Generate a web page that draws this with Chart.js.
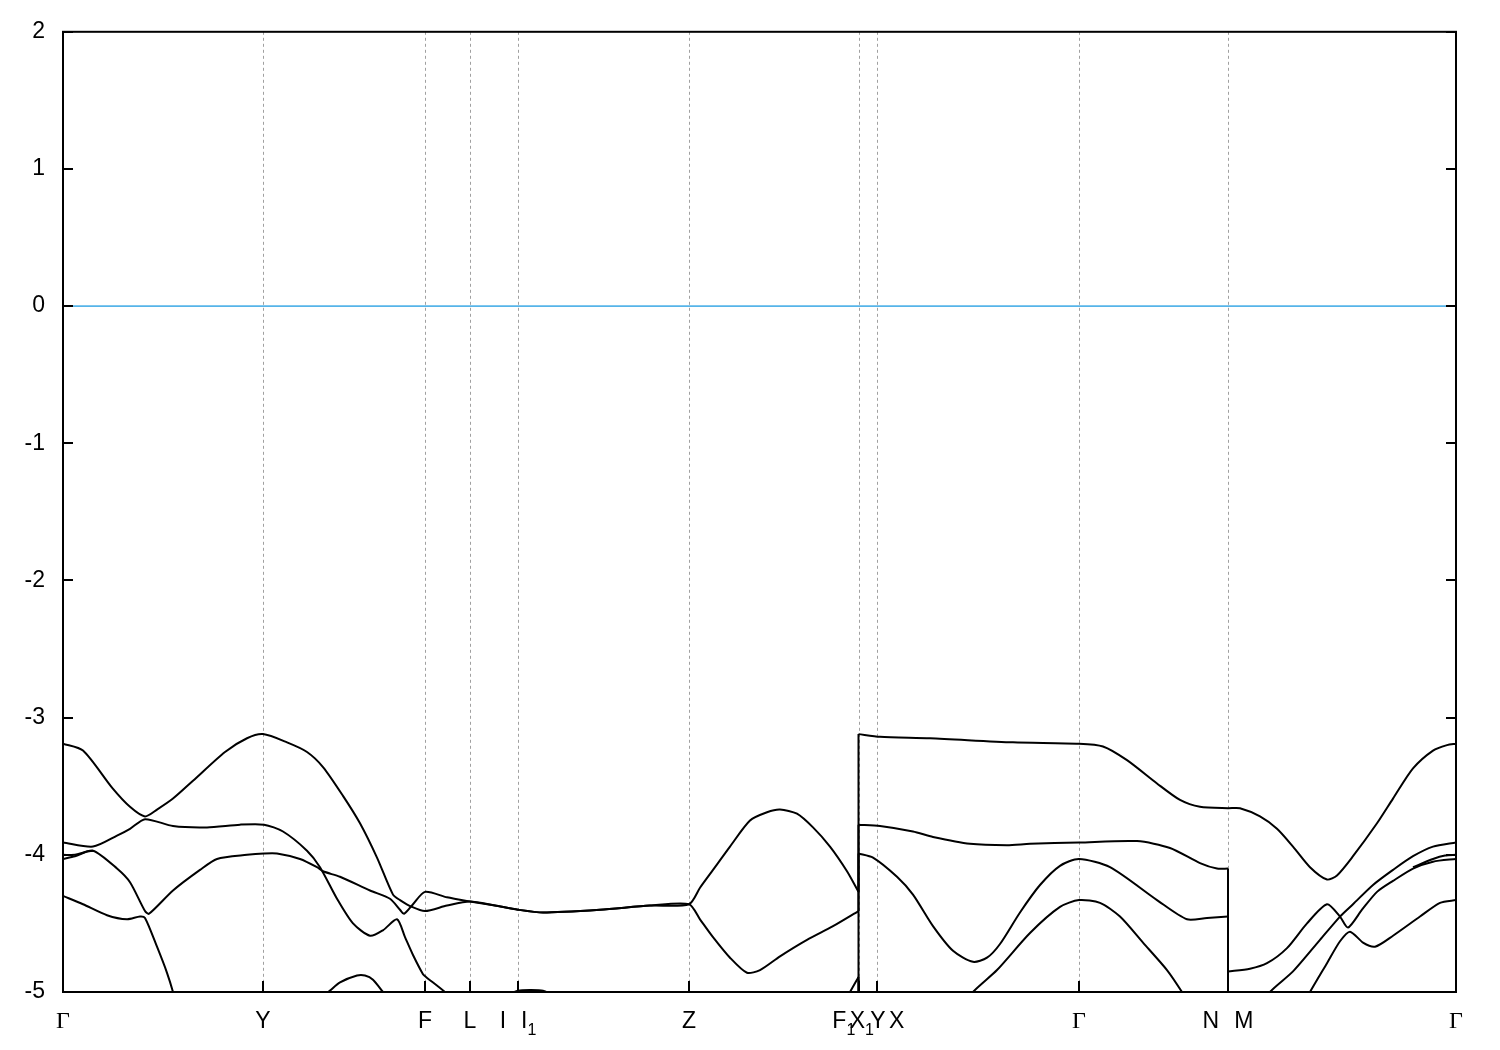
<!DOCTYPE html>
<html>
<head>
<meta charset="utf-8">
<title>Band structure</title>
<script src="https://cdn.jsdelivr.net/npm/chart.js@4.4.1/dist/chart.umd.min.js"></script>
<style>
  html, body { margin: 0; padding: 0; background: #fff; }
  canvas { display: block; }
</style>
</head>
<body>
<canvas id="bands" width="1500" height="1050"></canvas>
<script>
// High-symmetry points along the k-path (path length units)
const kTicks = [0, 2.00, 3.62, 4.07, 4.55, 6.26, 7.96, 8.14, 10.16, 11.65, 13.93];
const kLabels = ['Γ', 'Y', 'F', 'L', 'I|I_1', 'Z', 'F_1|Y', 'X_1|X', 'Γ', 'N|M', 'Γ'];

// Energy range (eV)
const eMin = -5;
const eMax = 2;
const fermiLevel = [[0, 0], [13.93, 0]];

// Bands: [k, E]; equal k twice = discontinuity jump
const band1 = [[0, -3.19], [0.20, -3.24], [0.49, -3.51], [0.67, -3.65], [0.82, -3.72], [0.94, -3.67],
  [1.10, -3.59], [1.30, -3.46], [1.62, -3.25], [1.84, -3.15], [2.00, -3.12], [2.24, -3.18], [2.44, -3.25],
  [2.60, -3.36], [2.80, -3.57], [2.97, -3.77], [3.14, -4.02], [3.30, -4.29], [3.37, -4.33], [3.49, -4.38],
  [3.62, -4.41], [3.84, -4.37], [4.07, -4.34], [4.32, -4.37], [4.55, -4.40], [4.80, -4.42], [5.37, -4.40],
  [5.87, -4.37], [6.26, -4.36], [6.37, -4.24], [6.50, -4.11], [6.67, -3.94], [6.87, -3.75], [7.04, -3.69],
  [7.17, -3.67], [7.34, -3.70], [7.50, -3.80], [7.67, -3.94], [7.84, -4.12], [7.955, -4.27], [7.955, -3.12],
  [8.17, -3.14], [8.67, -3.15], [9.50, -3.18], [10.16, -3.19], [10.40, -3.21], [10.64, -3.31], [10.94, -3.48],
  [11.17, -3.60], [11.37, -3.65], [11.65, -3.66], [11.77, -3.66], [11.97, -3.72], [12.14, -3.81],
  [12.30, -3.94], [12.47, -4.09], [12.64, -4.18], [12.74, -4.15], [12.90, -4.01], [13.14, -3.77],
  [13.30, -3.59], [13.50, -3.37], [13.70, -3.24], [13.84, -3.20], [13.93, -3.19]];

const band2 = [[0, -3.91], [0.30, -3.94], [0.54, -3.86], [0.67, -3.81], [0.82, -3.74], [1.10, -3.79],
  [1.44, -3.80], [1.77, -3.78], [2.01, -3.78], [2.20, -3.83], [2.44, -3.97], [2.57, -4.09], [2.74, -4.32],
  [2.90, -4.50], [3.07, -4.59], [3.20, -4.55], [3.34, -4.47], [3.42, -4.60], [3.50, -4.73], [3.60, -4.87],
  [3.63, -4.89], [3.85, -5.02], [4.07, -5.2]];

const band3 = [[0, -4.03], [0.12, -4.01], [0.30, -3.97], [0.54, -4.10], [0.67, -4.20], [0.82, -4.41],
  [0.86, -4.43], [1.10, -4.26], [1.37, -4.11], [1.54, -4.03], [1.84, -4.00], [2.01, -3.99], [2.14, -3.99],
  [2.37, -4.03], [2.54, -4.09], [2.60, -4.12], [2.77, -4.16], [3.07, -4.26], [3.27, -4.32], [3.37, -4.40],
  [3.41, -4.43], [3.50, -4.36], [3.62, -4.27], [3.84, -4.31], [4.07, -4.34], [4.32, -4.37], [4.55, -4.40],
  [4.80, -4.42], [5.37, -4.40], [5.87, -4.37], [6.26, -4.36], [6.37, -4.47], [6.50, -4.60], [6.67, -4.75],
  [6.84, -4.86], [6.97, -4.84], [7.17, -4.74], [7.44, -4.62], [7.70, -4.52], [7.955, -4.41], [7.955, -3.78],
  [8.17, -3.79], [8.50, -3.83], [8.70, -3.87], [9.07, -3.92], [9.44, -3.93], [9.67, -3.92], [10.16, -3.91],
  [10.74, -3.90], [11.07, -3.95], [11.37, -4.06], [11.54, -4.10], [11.65, -4.10], [11.65, -4.85],
  [11.87, -4.83], [12.04, -4.79], [12.24, -4.68], [12.44, -4.50], [12.64, -4.36], [12.77, -4.45],
  [12.85, -4.53], [12.99, -4.40], [13.14, -4.27], [13.30, -4.19], [13.50, -4.10], [13.70, -4.05], [13.93, -4.03]];

const band4 = [[0, -4.30], [0.20, -4.36], [0.44, -4.44], [0.64, -4.47], [0.77, -4.45], [0.82, -4.46],
  [0.94, -4.67], [1.04, -4.86], [1.10, -5.0], [1.17, -5.2]];

const band5 = [[2.57, -5.05], [2.67, -4.99], [2.77, -4.93], [2.94, -4.88], [3.02, -4.88], [3.10, -4.91],
  [3.20, -5.0], [3.27, -5.06]];

const band6 = [[4.42, -5.03], [4.55, -4.99], [4.67, -4.985], [4.80, -4.99], [4.92, -5.03]];

const band7 = [[7.80, -5.1], [7.87, -5.0], [7.955, -4.89], [7.955, -5.4], [9.02, -5.1], [9.10, -5.0],
  [9.34, -4.84], [9.67, -4.57], [9.97, -4.38], [10.16, -4.33], [10.37, -4.35], [10.57, -4.45], [10.80, -4.64],
  [11.04, -4.84], [11.19, -5.0], [11.27, -5.1]];

const band8 = [[7.955, -5.4], [7.955, -3.99], [8.10, -4.02], [8.34, -4.16], [8.50, -4.29], [8.70, -4.52],
  [8.90, -4.70], [9.10, -4.78], [9.24, -4.75], [9.37, -4.65], [9.57, -4.42], [9.77, -4.22], [9.97, -4.08],
  [10.16, -4.03], [10.47, -4.09], [10.94, -4.33], [11.24, -4.47], [11.44, -4.46], [11.65, -4.45], [11.65, -5.3]];

const band9 = [[12.00, -5.1], [12.07, -5.0], [12.30, -4.85], [12.57, -4.62], [12.77, -4.45], [12.90, -4.36],
  [13.10, -4.22], [13.30, -4.11], [13.50, -4.01], [13.70, -3.94], [13.93, -3.91]];

const band10 = [[12.40, -5.1], [12.47, -5.0], [12.64, -4.79], [12.77, -4.63], [12.87, -4.56], [13.00, -4.64],
  [13.12, -4.67], [13.30, -4.59], [13.57, -4.45], [13.77, -4.35], [13.93, -4.33]];

// near-degenerate partner close to Gamma
const band11Left = [[0, -4.00], [0.12, -4.00], [0.22, -3.98], [0.30, -3.97]];
const band11Right = [[13.50, -4.09], [13.70, -4.03], [13.82, -4.005], [13.93, -4.00]];

const allBands = [band1, band2, band3, band4, band5, band6, band7, band8, band9, band10, band11Left, band11Right];

// Split a band at jumps: smooth runs plus straight vertical connectors
function splitAtJumps(points) {
  const runs = [];
  const jumps = [];
  let run = [points[0]];
  for (let i = 1; i < points.length; i++) {
    const p = points[i];
    const q = points[i - 1];
    if (p[0] === q[0]) {
      jumps.push([q, p]);
      runs.push(run);
      run = [p];
    } else {
      run.push(p);
    }
  }
  runs.push(run);
  return { runs: runs.filter(r => r.length > 1), jumps };
}

const toXY = pts => pts.map(p => ({ x: p[0], y: p[1] }));

const datasets = [{
  data: toXY(fermiLevel),
  showLine: true,
  borderColor: '#56b4e9',
  borderWidth: 1.6,
  pointRadius: 0,
  tension: 0
}];

allBands.forEach(band => {
  const { runs, jumps } = splitAtJumps(band);
  runs.forEach(run => {
    datasets.push({
      data: toXY(run),
      showLine: true,
      borderColor: '#000',
      borderWidth: 2,
      pointRadius: 0,
      tension: 0.25
    });
  });
  jumps.forEach(j => {
    datasets.push({
      data: toXY(j),
      showLine: true,
      borderColor: '#000',
      borderWidth: 2,
      pointRadius: 0,
      tension: 0
    });
  });
});

const sansFont = '23px "Liberation Sans", Arial, sans-serif';
const serifFont = '24px "Liberation Serif", "Times New Roman", serif';
const subFont = '16px "Liberation Sans", Arial, sans-serif';

// Draw a k-point label like "F_1|Y" (| is shown as a blank gap, _1 as subscript)
function drawKLabel(ctx, text, cx, baseline) {
  const runs = [];
  text.split('|').forEach((part, i) => {
    if (i > 0) runs.push({ gap: 15 });
    const [main, sub] = part.split('_');
    runs.push({ text: main, font: main === 'Γ' ? serifFont : sansFont, dy: 0 });
    if (sub) runs.push({ text: sub, font: subFont, dy: 7 });
  });
  let total = 0;
  runs.forEach(r => {
    if (r.gap) { r.w = r.gap; } else { ctx.font = r.font; r.w = ctx.measureText(r.text).width; }
    total += r.w;
  });
  let xPos = cx - total / 2;
  ctx.textAlign = 'left';
  ctx.textBaseline = 'alphabetic';
  runs.forEach(r => {
    if (!r.gap) {
      ctx.font = r.font;
      ctx.fillText(r.text, xPos, baseline + r.dy);
    }
    xPos += r.w;
  });
}

const framePlugin = {
  id: 'frame',
  beforeDatasetsDraw(chart) {
    const { ctx, chartArea: a, scales: { x } } = chart;
    ctx.save();
    ctx.strokeStyle = '#a0a0a0';
    ctx.lineWidth = 1;
    ctx.setLineDash([3, 3]);
    kTicks.slice(1, -1).forEach(k => {
      const px = Math.round(x.getPixelForValue(k)) + 0.5;
      ctx.beginPath();
      ctx.moveTo(px, a.top);
      ctx.lineTo(px, a.bottom);
      ctx.stroke();
    });
    ctx.restore();
  },
  afterDatasetsDraw(chart) {
    const { ctx, chartArea: a, scales: { x, y } } = chart;
    ctx.save();
    ctx.strokeStyle = '#000';
    ctx.lineWidth = 2;
    ctx.strokeRect(a.left, a.top, a.right - a.left, a.bottom - a.top);

    // inward ticks
    ctx.lineWidth = 2;
    y.ticks.forEach(t => {
      const py = Math.round(y.getPixelForValue(t.value));
      ctx.beginPath();
      ctx.moveTo(a.left, py); ctx.lineTo(a.left + 10, py);
      ctx.moveTo(a.right, py); ctx.lineTo(a.right - 10, py);
      ctx.stroke();
    });
    kTicks.forEach(k => {
      const px = Math.round(x.getPixelForValue(k));
      ctx.beginPath();
      ctx.moveTo(px, a.bottom); ctx.lineTo(px, a.bottom - 11);
      ctx.stroke();
    });

    // k-point labels
    ctx.fillStyle = '#000';
    kTicks.forEach((k, i) => {
      drawKLabel(ctx, kLabels[i], x.getPixelForValue(k), a.bottom + 36);
    });
    ctx.restore();
  }
};

new Chart(document.getElementById('bands'), {
  type: 'scatter',
  data: { datasets },
  options: {
    responsive: false,
    animation: false,
    events: [],
    layout: { padding: { top: 28, right: 44, left: 0, bottom: 0 } },
    plugins: { legend: { display: false }, tooltip: { enabled: false } },
    scales: {
      x: {
        type: 'linear',
        min: 0,
        max: 13.93,
        ticks: { display: false },
        grid: { display: false, drawTicks: false },
        border: { display: false },
        afterFit: s => { s.height = 58; }
      },
      y: {
        min: eMin,
        max: eMax,
        ticks: {
          stepSize: 1,
          padding: 18,
          color: '#000',
          font: { family: '"Liberation Sans", Arial, sans-serif', size: 23 }
        },
        grid: { display: false, drawTicks: false },
        border: { display: false },
        afterFit: s => { s.width = 63; }
      }
    }
  },
  plugins: [framePlugin]
});
</script>
</body>
</html>
